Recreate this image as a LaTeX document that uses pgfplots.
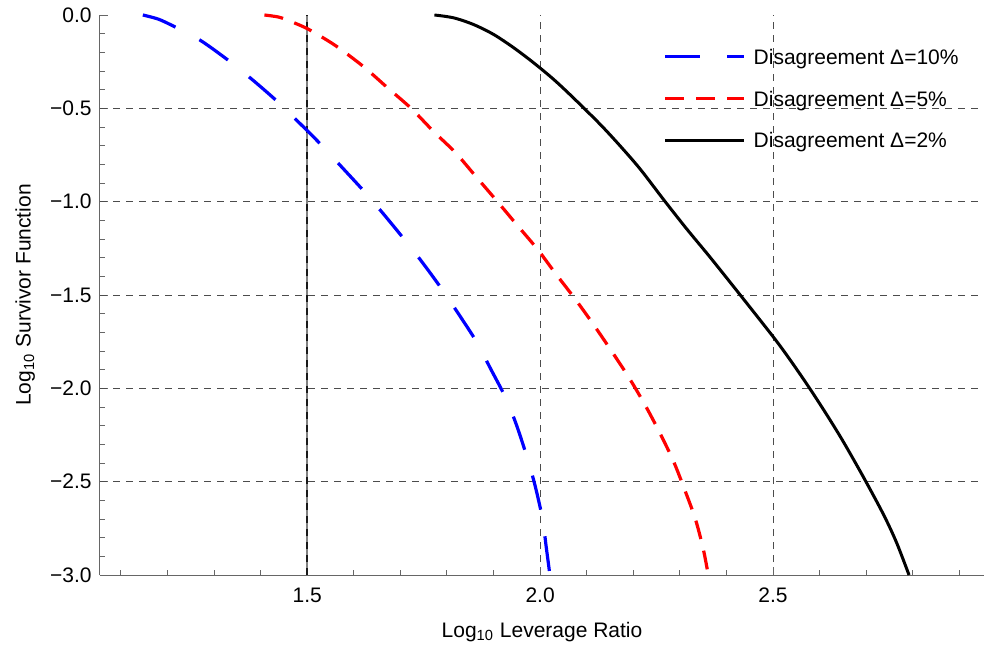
\documentclass[border=0pt]{standalone}
\usepackage{fontspec}
\setmainfont{Liberation Sans}
\usepackage{pgfplots}
\pgfplotsset{compat=1.18}
\begin{document}
\fontsize{10.5}{12.6}\selectfont
\begin{tikzpicture}
\useasboundingbox (-50pt,-36.5pt) rectangle (442pt,287.5pt);
\begin{axis}[
  scale only axis, width=442pt, height=280pt,
  xmin=1.055, xmax=2.953, ymin=-3, ymax=0,
  axis lines*=left,
  axis line style={black!60, line width=0.5pt},
  every tick/.style={black!60, line width=0.5pt},
  tick align=inside,
  major tick length=4pt, minor tick length=2.4pt,
  clip=false,
  xtick={1.5,2.0,2.5}, xticklabels={1.5,2.0,2.5},
  minor xtick={1.1,1.2,1.3,1.4,1.6,1.7,1.8,1.9,2.1,2.2,2.3,2.4,2.6,2.7,2.8,2.9},
  ytick={-3,-2.5,-2,-1.5,-1,-0.5,0},
  yticklabels={−3.0,−2.5,−2.0,−1.5,−1.0,−0.5,0.0},
  minor ytick={-2.9,-2.8,-2.7,-2.6,-2.4,-2.3,-2.2,-2.1,-1.9,-1.8,-1.7,-1.6,-1.4,-1.3,-1.2,-1.1,-0.9,-0.8,-0.7,-0.6,-0.4,-0.3,-0.2,-0.1},
  xmajorgrids=true,
  major grid style={black!70, dash pattern=on 3.5pt off 3pt, line width=0.5pt},
  extra y ticks={-2.5,-2,-1.5,-1,-0.5},
  extra y tick labels={},
  extra y tick style={ymajorgrids=true, major tick length=0pt},
  extra x ticks={1.5},
  extra x tick labels={},
  extra x tick style={xmajorgrids=true, major tick length=0pt,
    major grid style={black!50, solid, line width=1pt,
      postaction={draw, black!90, line width=1pt, dash pattern=on 3.5pt off 3pt}}},
  xticklabel style={anchor=center, inner sep=0pt, yshift=-10pt, font=\fontsize{10.5}{12.6}\selectfont},
  yticklabel style={anchor=east, inner sep=0pt, xshift=-4pt, font=\fontsize{10.5}{12.6}\selectfont},
  xlabel={Log\textsubscript{10} Leverage Ratio},
  ylabel={Log\textsubscript{10} Survivor Function},
  every axis x label/.style={at={(axis description cs:0.5,-0.1018)}, anchor=center, font=\fontsize{10.5}{12.6}\selectfont},
  every axis y label/.style={at={(axis description cs:-0.0845,0.5)}, rotate=90, anchor=center, font=\fontsize{10.5}{12.6}\selectfont},
  legend style={draw=none, fill=none, at={(axis description cs:0.637,0.941)}, anchor=north west,
    inner sep=0pt, row sep=10.35pt, column sep=4pt,
    nodes={inner sep=0pt, text height=8pt, text depth=2.5pt, anchor=base west},
    font=\fontsize{10.5}{12.6}\selectfont},
  legend cell align=left,
  legend image code/.code={\draw[#1] (0pt,3.8pt) -- (39.5pt,3.8pt);},
]
\addplot[blue, line width=1.6pt, dash pattern=on 17.5pt off 13.5pt, smooth, tension=0.5] coordinates {
(1.147,0) (1.180,-0.022) (1.213,-0.060) (1.270,-0.135) (1.330,-0.242) (1.379,-0.340)
(1.433,-0.457) (1.479,-0.568) (1.529,-0.693) (1.572,-0.809) (1.621,-0.942)
(1.662,-1.061) (1.708,-1.201) (1.747,-1.325) (1.790,-1.472) (1.825,-1.602)
(1.863,-1.749) (1.893,-1.892) (1.926,-2.051) (1.949,-2.195) (1.972,-2.370)
(1.989,-2.520) (2.005,-2.698) (2.013,-2.849) (2.021,-3.000)};
\addlegendentry{Disagreement Δ=10\%}
\addplot[red, line width=1.6pt, dash pattern=on 9.5pt off 6pt, smooth, tension=0.5] coordinates {
(1.408,0) (1.440,-0.012) (1.470,-0.040) (1.500,-0.073) (1.534,-0.122) (1.567,-0.175)
(1.621,-0.277) (1.672,-0.389) (1.723,-0.500) (1.770,-0.621) (1.818,-0.737)
(1.862,-0.865) (1.907,-0.996) (1.950,-1.124) (1.994,-1.254) (2.034,-1.388)
(2.075,-1.521) (2.115,-1.660) (2.154,-1.803) (2.191,-1.944) (2.225,-2.088)
(2.256,-2.234) (2.286,-2.389) (2.310,-2.541) (2.333,-2.698) (2.350,-2.858)
(2.361,-3.000)};
\addlegendentry{Disagreement Δ=5\%}
\addplot[black, line width=1.5pt, smooth, tension=0.5] coordinates {
(1.773,0) (1.814,-0.015) (1.857,-0.051) (1.900,-0.104) (1.943,-0.175) (1.986,-0.256)
(2.029,-0.345) (2.071,-0.443) (2.129,-0.586) (2.172,-0.702) (2.215,-0.826)
(2.266,-0.992) (2.315,-1.147) (2.365,-1.298) (2.429,-1.498) (2.501,-1.726)
(2.536,-1.845) (2.576,-1.990) (2.615,-2.140) (2.650,-2.282) (2.694,-2.475)
(2.737,-2.675) (2.765,-2.825) (2.792,-3.000)};
\addlegendentry{Disagreement Δ=2\%}
\end{axis}
\end{tikzpicture}
\end{document}
